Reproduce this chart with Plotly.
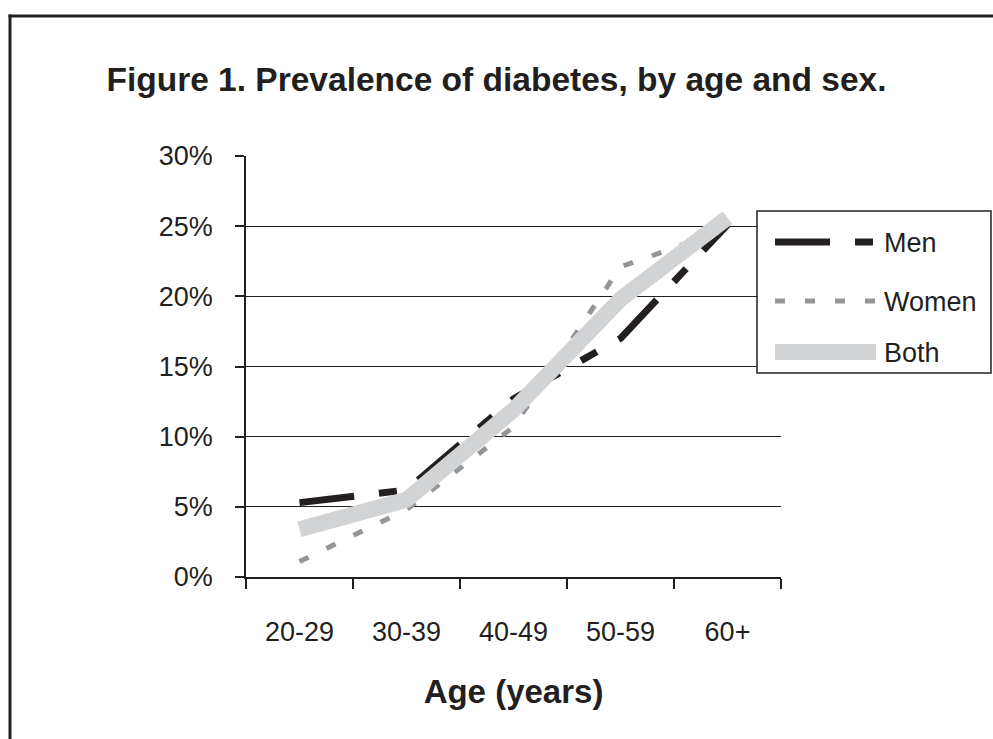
import plotly.graph_objects as go

# ---- data ----
age_groups = ["20-29", "30-39", "40-49", "50-59", "60+"]
men = [0.053, 0.062, 0.127, 0.170, 0.251]
women = [0.011, 0.048, 0.107, 0.221, 0.248]
both = [0.034, 0.055, 0.119, 0.198, 0.256]
series_names = ["Men", "Women", "Both"]

INK = "#231f20"
FONT = "Liberation Sans, Arial, sans-serif"

W, H = 993, 739
L, R, T, B = 246, 212, 156, 162
PW, PH = W - L - R, H - T - B


def px_x(p):
    return (p - L) / PW


def px_y(p):
    return (H - B - p) / PH


styles = {
    "Men": dict(color=INK, width=7, dash="55px,25px,18px,25px"),
    "Women": dict(color="#939598", width=5, dash="10px,20px"),
    "Both": dict(color="#d1d3d4", width=16, dash="solid"),
}

fig = go.Figure()
for name, vals in zip(series_names, [men, women, both]):
    fig.add_trace(go.Scatter(x=age_groups, y=vals, mode="lines", name=name,
                             line=styles[name], showlegend=False, hoverinfo="skip"))

fig.update_layout(
    width=W, height=H,
    margin=dict(l=L, r=R, t=T, b=B, pad=0),
    paper_bgcolor="white", plot_bgcolor="white",
    font=dict(family=FONT, color=INK, size=27),
    title=dict(text="Figure 1. Prevalence of diabetes, by age and sex.",
               font=dict(family=FONT, size=33.5, color=INK, weight="bold"),
               x=0.5, xref="container", xanchor="center",
               y=1 - 79 / H, yref="container", yanchor="middle"),
    xaxis=dict(type="category", categoryorder="array", categoryarray=age_groups,
               range=[-0.5, 4.5], tickson="boundaries", ticks="outside",
               ticklen=10, tickwidth=1.5, tickcolor=INK, showgrid=False,
               showline=True, linecolor=INK, linewidth=1.5, zeroline=False,
               tickfont=dict(family=FONT, size=27, color=INK),
               ticklabelstandoff=30,
               title=dict(text="Age (years)", standoff=34,
                          font=dict(family=FONT, size=33, color=INK, weight="bold"))),
    yaxis=dict(range=[0, 0.3], dtick=0.05, tick0=0, tickformat=".0%",
               ticks="outside", ticklen=9, tickwidth=1.5, tickcolor=INK,
               showgrid=True, gridcolor=INK, gridwidth=1.2,
               showline=True, linecolor=INK, linewidth=1.5, zeroline=False,
               tickfont=dict(family=FONT, size=27, color=INK),
               ticklabelstandoff=17),
)

shapes = []
# outer frame: top and left edges
shapes.append(dict(type="line", xref="paper", yref="paper",
                   x0=px_x(8.5), x1=px_x(993), y0=px_y(16), y1=px_y(16),
                   line=dict(color=INK, width=3), layer="above"))
shapes.append(dict(type="line", xref="paper", yref="paper",
                   x0=px_x(10), x1=px_x(10), y0=px_y(14.5), y1=px_y(739),
                   line=dict(color=INK, width=3), layer="above"))
# legend box
shapes.append(dict(type="rect", xref="paper", yref="paper",
                   x0=px_x(757), x1=px_x(991), y0=px_y(373), y1=px_y(211),
                   line=dict(color=INK, width=1.5), fillcolor="white", layer="above"))
legend_rows = {"Men": 242, "Women": 301, "Both": 352}
annotations = []
for name in series_names:
    yy = legend_rows[name]
    st = styles[name]
    shapes.append(dict(type="line", xref="paper", yref="paper",
                       x0=px_x(775), x1=px_x(876), y0=px_y(yy), y1=px_y(yy),
                       line=dict(color=st["color"], width=st["width"], dash=st["dash"]),
                       layer="above"))
    annotations.append(dict(text=name, xref="paper", yref="paper",
                            x=px_x(882), y=px_y(yy + 1), xanchor="left", yanchor="middle",
                            showarrow=False, font=dict(family=FONT, size=27, color=INK)))

fig.update_layout(shapes=shapes, annotations=annotations)
fig.write_html("out.html", config={"displayModeBar": False},
               post_script="document.body.style.margin='0';document.body.style.overflow='hidden';")
